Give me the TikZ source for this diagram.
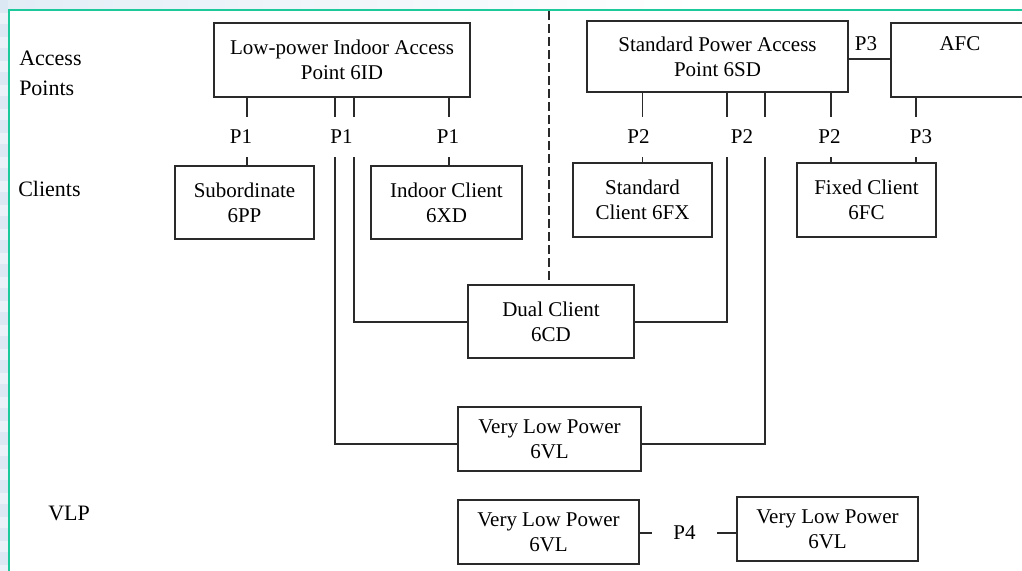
\documentclass[tikz,border=0pt]{standalone}
\usepackage{fontspec}
\setmainfont{Liberation Serif}
\definecolor{tealline}{HTML}{1CC99B}
\definecolor{stripblue}{HTML}{DCE8F4}
\definecolor{inkgray}{HTML}{2A2A2A}
\begin{document}
\begin{tikzpicture}[x=0.75pt,y=-0.75pt,
  box/.style={draw=inkgray,line width=0.9pt,align=center,inner sep=0pt,
    font=\fontsize{15.75}{18.75}\selectfont},
  conn/.style={draw=inkgray,line width=0.8pt},
  plab/.style={fill=white,inner sep=0pt,minimum height=30pt,
    font=\fontsize{15.75}{18.75}\selectfont},
  side/.style={anchor=west,align=left,inner sep=0pt,
    font=\fontsize{16.5}{22.5}\selectfont}]
\clip (0,0) rectangle (1022,571);
\useasboundingbox (0,0) rectangle (1022,571);
% frame background
\fill[white] (0,0) rectangle (1022,571);
\shade[left color=stripblue!80,right color=white] (0,0) rectangle (700,9);
\fill[stripblue!60] (0,0) rectangle (8,571);
\foreach \yy in {0,24,...,571} {\fill[stripblue] (0,\yy) rectangle (8,\yy+13);}
\draw[tealline,line width=1.6pt] (9,571) -- (9,10) -- (1022,10);

% coordinates
\coordinate (c247) at (247,0);
\coordinate (c335) at (335,0);
\coordinate (c354) at (354,0);
\coordinate (c449) at (449,0);
\coordinate (c727) at (727,0);
\coordinate (c765) at (765,0);
\coordinate (c831) at (831,0);
\coordinate (c916) at (916,0);
\coordinate (top) at (549,11);
\coordinate (r59) at (0,59);
\coordinate (r322) at (0,322);
\coordinate (r444) at (0,444);
\coordinate (r533) at (0,533);

% side labels
\node[side] (lap) at (19,73) {Access\\Points};
\node[side] (lcl) at (18,189) {Clients};
\node[side] (lvlp) at (48,513) {VLP};

% boxes
\node[box,minimum width=192pt,minimum height=55.5pt] (id) at (342,60) {Low-power Indoor Access\\Point 6ID};
\node[box,minimum width=195.75pt,minimum height=53.25pt] (sd) at (717.5,56.5) {Standard Power Access\\Point 6SD};
\node[box,minimum width=103.5pt,minimum height=55.5pt] (afc) at (960,60) {AFC\\\strut};
\node[box,minimum width=104.25pt,minimum height=54.75pt] (sub) at (244.5,202.5) {Subordinate\\6PP};
\node[box,minimum width=113.25pt,minimum height=54.75pt] (ind) at (446.5,202.5) {Indoor Client\\6XD};
\node[box,minimum width=104.25pt,minimum height=55.5pt] (sfx) at (642.5,200) {Standard\\Client 6FX};
\node[box,minimum width=104.25pt,minimum height=55.5pt] (fc) at (866.5,200) {Fixed Client\\6FC};
\node[box,minimum width=124.5pt,minimum height=54.75pt] (dual) at (551,321.5) {Dual Client\\6CD};
\node[box,minimum width=137.25pt,minimum height=48pt] (vlp1) at (549.5,439) {Very Low Power\\6VL};
\node[box,minimum width=135.75pt,minimum height=48pt] (b1) at (548.5,532) {Very Low Power\\6VL};
\node[box,minimum width=135.75pt,minimum height=48pt] (b2) at (827.5,529) {Very Low Power\\6VL};

% dashed divider
\draw[inkgray,line width=0.8pt,dash pattern=on 6.75pt off 3pt] (top) -- (dual.north -| top);

% connectors
\draw[conn] (id.south -| c247) -- (sub.north -| c247);
\draw[conn] (id.south -| c335) |- (vlp1.west |- r444);
\draw[conn] (id.south -| c354) |- (dual.west |- r322);
\draw[conn] (id.south -| c449) -- (ind.north -| c449);
\draw[conn] (sd.south -| sfx.north) -- (sfx.north);
\draw[conn] (sd.south -| c727) |- (dual.east |- r322);
\draw[conn] (sd.south -| c765) |- (vlp1.east |- r444);
\draw[conn] (sd.south -| c831) -- (fc.north -| c831);
\draw[conn] (afc.south -| c916) -- (fc.north -| c916);
\draw[conn] (sd.east |- r59) -- (afc.west |- r59);
\draw[conn] (b1.east |- r533) -- (b2.west |- r533);

% port labels
\node[plab,minimum width=18pt] (p1a) at (241,137) {P1};
\node[plab,minimum width=33pt] (p1b) at (341.5,137) {P1};
\node[plab,minimum width=18pt] (p1c) at (448,137) {P1};
\node[plab,minimum width=18pt] (p2a) at (638.5,137) {P2};
\node[plab,minimum width=39pt] (p2b) at (742,137) {P2};
\node[plab,minimum width=18pt] (p2c) at (829.5,137) {P2};
\node[plab,minimum width=18pt] (p3b) at (921,137) {P3};
\node[inner sep=0pt,font=\fontsize{15.75}{18.75}\selectfont] (p3a) at (866,44) {P3};
\node[plab,minimum width=48.75pt,minimum height=15pt] (p4) at (684.5,533) {P4};
\end{tikzpicture}
\end{document}
